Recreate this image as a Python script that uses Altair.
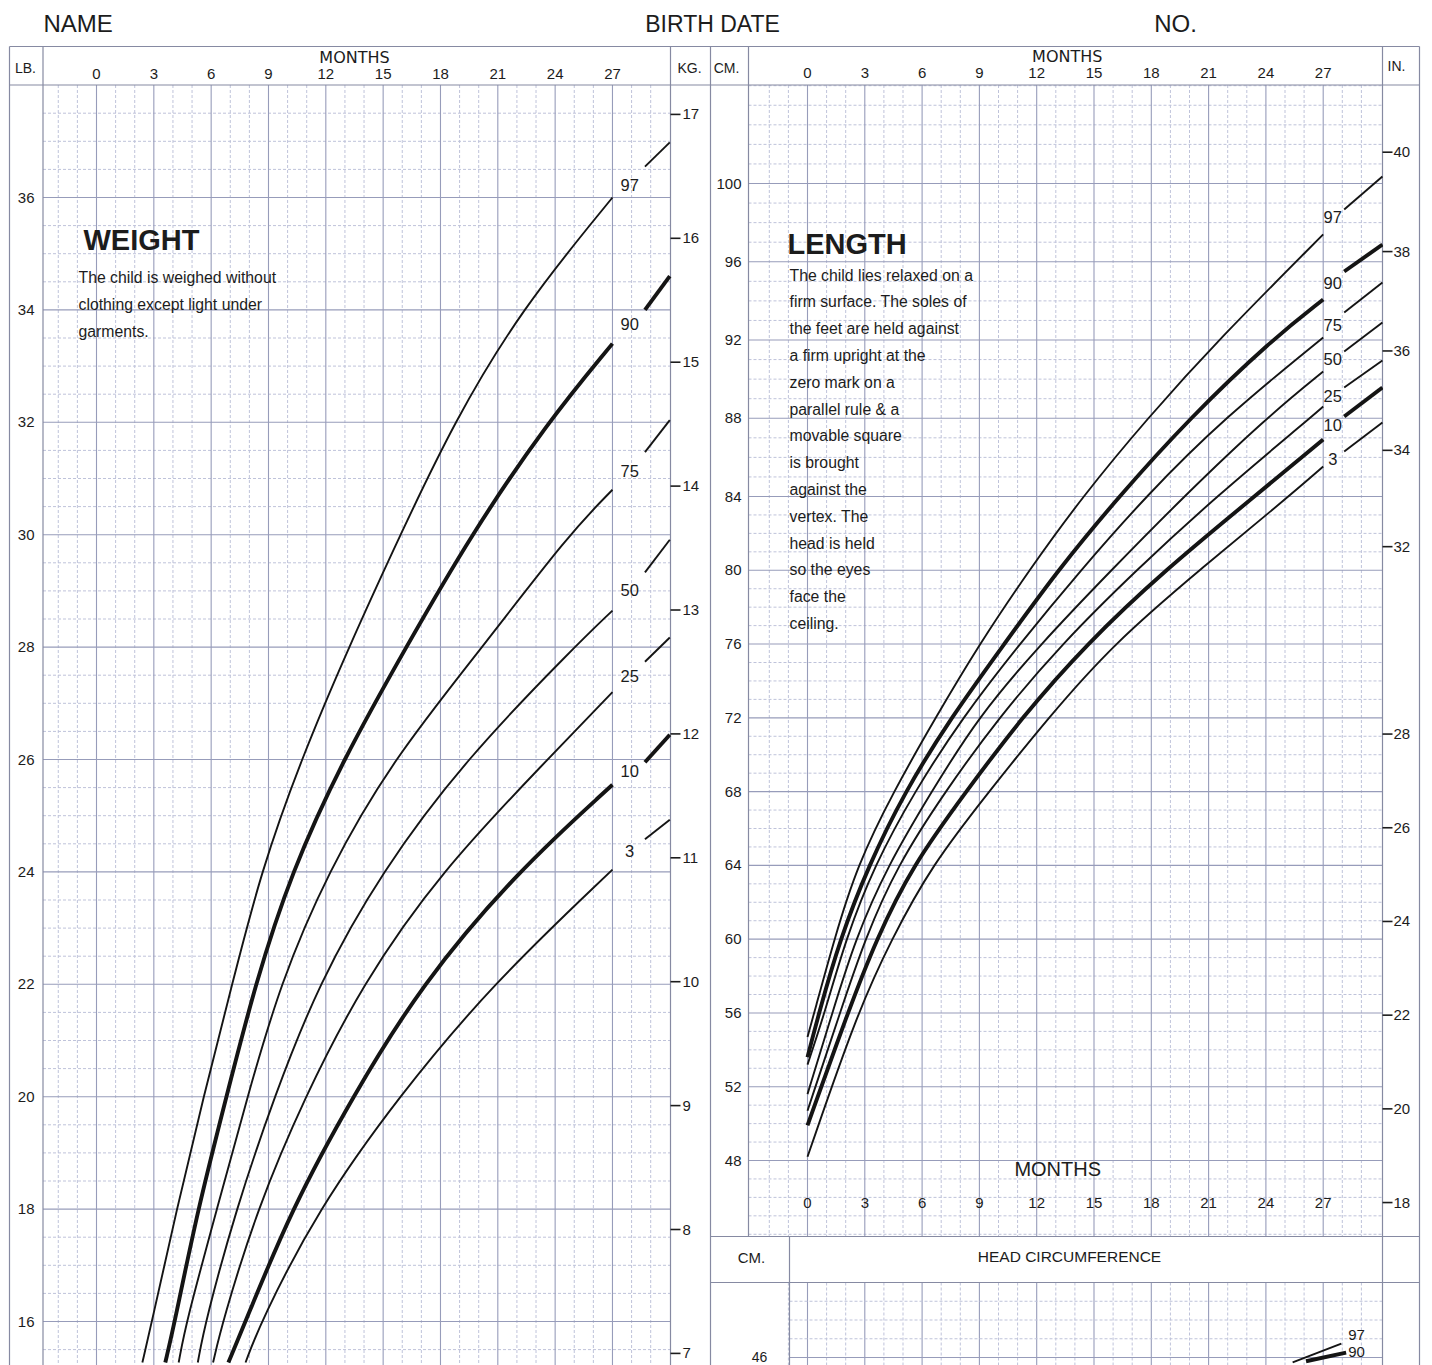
import altair as alt
import pandas as pd

# ============================ DATA ============================
PCTS = ["97", "90", "75", "50", "25", "10", "3"]
THICK = ["90", "10"]
month_ticks = [0, 3, 6, 9, 12, 15, 18, 21, 24, 27]

# ---- WEIGHT (months, lb) ----
wt97_m = [2.4, 2.9, 4.2, 5.6, 7.1, 8.6, 10.7, 13.2, 15.9, 18.7, 22.2, 27.0]
wt97_lb = [15.27, 16.0, 18.0, 20.0, 22.0, 24.0, 26.0, 28.0, 30.0, 32.0, 34.0, 36.0]
wt90_m = [3.6, 4.1, 5.3, 6.8, 8.3, 10.2, 12.9, 16.2, 19.6, 23.6, 27.0]
wt90_lb = [15.27, 16.0, 18.0, 20.0, 22.0, 24.0, 26.0, 28.0, 30.0, 32.0, 33.4]
wt75_m = [4.3, 4.7, 6.3, 7.9, 9.6, 12.1, 15.5, 20.2, 24.7, 27.0]
wt75_lb = [15.27, 16.0, 18.0, 20.0, 22.0, 24.0, 26.0, 28.0, 30.0, 30.8]
wt50_m = [5.3, 5.7, 7.3, 9.3, 11.6, 14.9, 19.3, 25.0, 27.0]
wt50_lb = [15.27, 16.0, 18.0, 20.0, 22.0, 24.0, 26.0, 28.0, 28.65]
wt25_m = [6.1, 6.6, 8.4, 10.9, 13.9, 18.0, 23.6, 27.0]
wt25_lb = [15.27, 16.0, 18.0, 20.0, 22.0, 24.0, 26.0, 27.2]
wt10_m = [6.9, 7.8, 10.2, 13.4, 17.0, 22.0, 27.0]
wt10_lb = [15.27, 16.0, 18.0, 20.0, 22.0, 24.0, 25.55]
wt3_m = [7.8, 8.6, 11.6, 15.8, 20.7, 27.0]
wt3_lb = [15.27, 16.0, 18.0, 20.0, 22.0, 24.04]
# continuation pieces right of the percentile labels
wt_ext_m = [28.7, 30.0]
wt_ext_97 = [36.55, 36.98]
wt_ext_90 = [34.0, 34.6]
wt_ext_75 = [31.47, 32.04]
wt_ext_50 = [29.33, 29.91]
wt_ext_25 = [27.74, 28.17]
wt_ext_10 = [25.95, 26.44]
wt_ext_3 = [24.58, 24.93]
wt_label_m = 27.9
wt_label_lb = [36.21, 33.74, 31.12, 28.99, 27.46, 25.77, 24.35]

# ---- LENGTH (months, cm) ----
ln97_m = [0, 0.35, 1.4, 2.6, 4.5, 6.7, 9.0, 11.6, 14.4, 17.8, 21.5, 27.0]
ln97_cm = [54.7, 56, 60, 64, 68, 72, 76, 80, 84, 88, 92, 97.4]
ln90_m = [0, 0.6, 1.7, 3.2, 5.1, 7.5, 10.3, 13.1, 16.3, 20.0, 24.3, 27.0]
ln90_cm = [53.6, 56, 60, 64, 68, 72, 76, 80, 84, 88, 92, 94.07]
ln75_m = [0, 0.9, 2.0, 3.5, 5.6, 8.1, 11.1, 14.3, 17.7, 21.8, 27.0]
ln75_cm = [53.2, 56, 60, 64, 68, 72, 76, 80, 84, 88, 92.13]
ln50_m = [0, 1.3, 2.5, 4.2, 6.5, 8.9, 12.2, 15.9, 19.7, 24.0, 27.0]
ln50_cm = [51.6, 56, 60, 64, 68, 72, 76, 80, 84, 88, 90.39]
ln25_m = [0, 1.7, 3.0, 4.7, 7.2, 10.0, 13.3, 17.2, 21.4, 26.3, 27.0]
ln25_cm = [50.7, 56, 60, 64, 68, 72, 76, 80, 84, 88, 88.6]
ln10_m = [0, 2.1, 3.6, 5.5, 8.3, 11.2, 14.6, 18.7, 23.4, 27.0]
ln10_cm = [49.9, 56, 60, 64, 68, 72, 76, 80, 84, 86.91]
ln3_m = [0, 2.6, 4.4, 6.5, 9.5, 12.6, 16.0, 20.5, 25.2, 27.0]
ln3_cm = [48.2, 56, 60, 64, 68, 72, 76, 80, 84, 85.53]
ln_ext_m = [28.1, 30.1]
ln_ext_97 = [98.67, 100.36]
ln_ext_90 = [95.5, 96.88]
ln_ext_75 = [93.4, 94.94]
ln_ext_50 = [91.41, 92.89]
ln_ext_25 = [89.57, 90.95]
ln_ext_10 = [88.09, 89.57]
ln_ext_3 = [86.3, 87.78]
ln_label_m = 27.5
ln_label_cm = [98.26, 94.84, 92.74, 91.0, 89.11, 87.58, 85.89]

# ---- HEAD CIRCUMFERENCE (only the top edge is visible) ----
hc97_m = [25.4, 27.95]
hc97_cm = [45.87, 46.37]
hc90_m = [26.1, 28.2]
hc90_cm = [45.9, 46.13]
hc_label_pct = ["97", "90"]
hc_label_m = 28.75
hc_label_cm = [46.59, 46.16]

# ---- axis tick values ----
lb_ticks = [16, 18, 20, 22, 24, 26, 28, 30, 32, 34, 36]
kg_ticks = [7, 8, 9, 10, 11, 12, 13, 14, 15, 16, 17]
cm_ticks = [48, 52, 56, 60, 64, 68, 72, 76, 80, 84, 88, 92, 96, 100]
in_ticks = [18, 20, 22, 24, 26, 28, 32, 34, 36, 38, 40]

weight_note = ["The child is weighed without", "clothing except light under", "garments."]
length_note = ["The child lies relaxed on a", "firm surface. The soles of", "the feet are held against",
               "a firm upright at the", "zero mark on a", "parallel rule & a", "movable square",
               "is brought", "against the", "vertex. The", "head is held", "so the eyes",
               "face the", "ceiling."]

# ============================ LAYOUT ============================
W, H = 1340, 1280
TOP, LEFT = 85.5, 43.5          # page position of the plot origin
def rx(px): return px - LEFT
def ry(py): return py - TOP

WX0, WXS = 97.0, 19.11
wx = alt.Scale(domain=[(LEFT - WX0) / WXS, (LEFT + W - WX0) / WXS], nice=False, zero=False)
LX0, LXS = 808.0, 19.1
lx = alt.Scale(domain=[(LEFT - LX0) / LXS, (LEFT + W - LX0) / LXS], nice=False, zero=False)

def lb_at(py): return 36 - (py - 198) / 56.2
wy_dom = [lb_at(TOP + H), lb_at(TOP)]
wy = alt.Scale(domain=wy_dom, nice=False, zero=False)
ky = alt.Scale(domain=[v / 2.20462 for v in wy_dom], nice=False, zero=False)

lo_s = (1161 - 497) / 36.0
hi_s = (497 - 184) / 16.0
ly_dom = [48 - (TOP + H - 1161) / lo_s, 48, 84, 100, 100 + (184 - TOP) / hi_s]
ly_rng = [H, ry(1161), ry(497), ry(184), 0]
ly = alt.Scale(domain=ly_dom, range=ly_rng, nice=False, zero=False)
iy = alt.Scale(domain=[v / 2.54 for v in ly_dom], range=ly_rng, nice=False, zero=False)

hy = alt.Scale(domain=[46 - (TOP + H - 1358) / 37.5, 46 + (1358 - TOP) / 37.5], nice=False, zero=False)

TXT = "#1c1c1c"
INK = "#141414"
G_MIN = "#bfc3da"
G_MAJ = "#979cba"
FRAME = "#868aa2"
FONT = "Liberation Sans"
WIDE = "DejaVu Sans"
ONE = pd.DataFrame({"a": [0]})

def txt(text, x, y, size, align="center", baseline="middle", weight="normal", font=FONT, lh=None):
    kw = dict(text=text, fontSize=size, align=align, baseline=baseline, fontWeight=weight, font=font, color=TXT)
    if lh is not None:
        kw["lineHeight"] = lh
    return alt.Chart(ONE).mark_text(**kw).encode(x=alt.value(x), y=alt.value(y))

def frame(x0, y0, x1, y1, color=FRAME, sw=1.2, opacity=1.0):
    return alt.Chart(ONE).mark_rule(color=color, strokeWidth=sw, opacity=opacity).encode(
        x=alt.value(x0), y=alt.value(y0), x2=alt.value(x1), y2=alt.value(y1))

def vlines(vals, xs, y0, y1, color, sw, dash=None):
    kw = dict(color=color, strokeWidth=sw)
    if dash:
        kw["strokeDash"] = dash
    return alt.Chart(pd.DataFrame({"m": vals})).mark_rule(**kw).encode(
        x=alt.X("m:Q", scale=xs, axis=None), y=alt.value(y0), y2=alt.value(y1))

def hlines(vals, ys, x0, x1, color, sw, dash=None):
    kw = dict(color=color, strokeWidth=sw)
    if dash:
        kw["strokeDash"] = dash
    return alt.Chart(pd.DataFrame({"v": vals})).mark_rule(**kw).encode(
        y=alt.Y("v:Q", scale=ys, axis=None), x=alt.value(x0), x2=alt.value(x1))

def curve_table(series, ext_m, ext):
    rows = []
    for p, (ms, vs) in series.items():
        for m, v in zip(ms, vs):
            rows.append({"pct": p, "key": p + "a", "m": m, "v": v})
        if ext is not None:
            for m, v in zip(ext_m, ext[p]):
                rows.append({"pct": p, "key": p + "b", "m": m, "v": v})
    return pd.DataFrame(rows)

def curves(df, xs, ys, thick):
    sub = df[df["pct"].isin(THICK) == thick]
    return alt.Chart(sub).mark_line(color=INK, strokeWidth=3.9 if thick else 1.9,
                                    interpolate="basis", clip=True).encode(
        x=alt.X("m:Q", scale=xs, axis=None), y=alt.Y("v:Q", scale=ys, axis=None),
        detail="key:N", order="m:Q")

def pct_text(labels, m, vals, xs, ys, size=16.5):
    df = pd.DataFrame({"t": labels, "m": [m] * len(labels), "v": vals})
    return alt.Chart(df).mark_text(fontSize=size, font=FONT, color=TXT).encode(
        x=alt.X("m:Q", scale=xs, axis=None), y=alt.Y("v:Q", scale=ys, axis=None), text="t:N")

def ytick_text(vals, ys, x, align, size=15):
    df = pd.DataFrame({"v": vals, "t": [str(v) for v in vals]})
    return alt.Chart(df).mark_text(fontSize=size, font=FONT, color=TXT, align=align).encode(
        y=alt.Y("v:Q", scale=ys, axis=None), x=alt.value(x), text="t:N")

def xtick_text(vals, xs, y, size=15):
    df = pd.DataFrame({"m": vals, "t": [str(v) for v in vals]})
    return alt.Chart(df).mark_text(fontSize=size, font=FONT, color=TXT).encode(
        x=alt.X("m:Q", scale=xs, axis=None), y=alt.value(y), text="t:N")

def frange(a, b, step):
    out, v = [], a
    while v <= b + 1e-9:
        out.append(round(v, 3))
        v += step
    return out

layers = []
layers.append(frame(-35, -77, -34, -77, opacity=0.0))   # invisible anchor (top-left)

# ---------------- grids ----------------
WR = rx(671)
LL, LR = rx(749), rx(1383)
LB_ = ry(1237)
HT = ry(1283)
HL = rx(790)

wk_minor = [m for m in range(-2, 30) if m not in month_ticks]
layers.append(vlines(wk_minor, wx, 0, H, G_MIN, 1, [3, 2]))
layers.append(hlines([v for v in frange(15.5, 37.5, 0.5) if v % 2 != 0], wy, 0, WR, G_MIN, 1, [3, 2]))
layers.append(vlines(month_ticks, wx, 0, H, G_MAJ, 1.1))
layers.append(hlines(lb_ticks, wy, 0, WR, G_MAJ, 1.1))

ln_minor = [m for m in range(-2, 30) if m not in month_ticks]
layers.append(vlines(ln_minor, lx, 0, LB_, G_MIN, 1, [3, 2]))
layers.append(hlines([v for v in range(44, 106) if v not in cm_ticks], ly, LL, LR, G_MIN, 1, [3, 2]))
layers.append(vlines(month_ticks, lx, 0, LB_, G_MAJ, 1.1))
layers.append(hlines(cm_ticks, ly, LL, LR, G_MAJ, 1.1))

layers.append(vlines([m for m in range(-1, 30) if m not in month_ticks], lx, HT, H, G_MIN, 1, [3, 2]))
layers.append(vlines(month_ticks, lx, HT, H, G_MAJ, 1.1))
layers.append(hlines([46.5, 47.0, 47.5], hy, HL, LR, G_MIN, 1, [3, 2]))
layers.append(hlines([46.0], hy, HL, LR, G_MAJ, 1.1))

# ---------------- frame lines ----------------
XL, XR = rx(10), rx(1420)
HB = ry(47)
layers += [
    frame(XL, HB, XR, HB), frame(XL, 0, XR, 0),
    frame(XL, HB, XL, H), frame(0, HB, 0, H), frame(WR, HB, WR, H),
    frame(rx(711), HB, rx(711), H), frame(LL, HB, LL, LB_), frame(LR, HB, LR, H),
    frame(XR, HB, XR, H),
    frame(rx(711), LB_, XR, LB_), frame(rx(711), HT, XR, HT), frame(HL, LB_, HL, H),
]

# ---------------- curves ----------------
wt_df = curve_table(
    {"97": (wt97_m, wt97_lb), "90": (wt90_m, wt90_lb), "75": (wt75_m, wt75_lb), "50": (wt50_m, wt50_lb),
     "25": (wt25_m, wt25_lb), "10": (wt10_m, wt10_lb), "3": (wt3_m, wt3_lb)},
    wt_ext_m,
    {"97": wt_ext_97, "90": wt_ext_90, "75": wt_ext_75, "50": wt_ext_50, "25": wt_ext_25, "10": wt_ext_10, "3": wt_ext_3})
ln_df = curve_table(
    {"97": (ln97_m, ln97_cm), "90": (ln90_m, ln90_cm), "75": (ln75_m, ln75_cm), "50": (ln50_m, ln50_cm),
     "25": (ln25_m, ln25_cm), "10": (ln10_m, ln10_cm), "3": (ln3_m, ln3_cm)},
    ln_ext_m,
    {"97": ln_ext_97, "90": ln_ext_90, "75": ln_ext_75, "50": ln_ext_50, "25": ln_ext_25, "10": ln_ext_10, "3": ln_ext_3})
hc_df = curve_table({"97": (hc97_m, hc97_cm), "90": (hc90_m, hc90_cm)}, None, None)

for th in (False, True):
    layers.append(curves(wt_df, wx, wy, th))
    layers.append(curves(ln_df, lx, ly, th))
    layers.append(curves(hc_df, lx, hy, th))

layers.append(pct_text(PCTS, wt_label_m, wt_label_lb, wx, wy))
layers.append(pct_text(PCTS, ln_label_m, ln_label_cm, lx, ly))
layers.append(pct_text(hc_label_pct, hc_label_m, hc_label_cm, lx, hy, size=15))

# ---------------- axes (drawn as text) ----------------
layers.append(ytick_text(lb_ticks, wy, rx(35), "right"))
layers.append(ytick_text(kg_ticks, ky, rx(683), "left"))
layers.append(alt.Chart(pd.DataFrame({"v": kg_ticks})).mark_rule(color=TXT, strokeWidth=1.6).encode(
    y=alt.Y("v:Q", scale=ky, axis=None), x=alt.value(WR), x2=alt.value(rx(681))))
layers.append(ytick_text(cm_ticks, ly, rx(742), "right"))
layers.append(ytick_text(in_ticks, iy, rx(1394), "left"))
layers.append(alt.Chart(pd.DataFrame({"v": in_ticks})).mark_rule(color=TXT, strokeWidth=1.6).encode(
    y=alt.Y("v:Q", scale=iy, axis=None), x=alt.value(LR), x2=alt.value(rx(1393))))

layers.append(xtick_text(month_ticks, wx, ry(74)))
layers.append(xtick_text(month_ticks, lx, ry(73)))
layers.append(xtick_text(month_ticks, lx, ry(1203)))

layers.append(alt.Chart(pd.DataFrame({"m": [13.5], "t": ["MONTHS"]})).mark_text(
    fontSize=16, font=WIDE, color=TXT).encode(x=alt.X("m:Q", scale=wx, axis=None), y=alt.value(ry(58)), text="t:N"))
layers.append(alt.Chart(pd.DataFrame({"m": [13.6], "t": ["MONTHS"]})).mark_text(
    fontSize=16, font=WIDE, color=TXT).encode(x=alt.X("m:Q", scale=lx, axis=None), y=alt.value(ry(57)), text="t:N"))
layers.append(alt.Chart(pd.DataFrame({"m": [13.1], "t": ["MONTHS"]})).mark_text(
    fontSize=20, font=FONT, color=TXT).encode(x=alt.X("m:Q", scale=lx, axis=None), y=alt.value(ry(1170)), text="t:N"))

# ---------------- header & notes ----------------
layers += [
    txt("NAME", rx(44), ry(25), 24, align="left"),
    txt("BIRTH DATE", rx(713), ry(25), 23),
    txt("NO.", rx(1176), ry(25), 24),
    txt("LB.", rx(26), ry(69), 14),
    txt("KG.", rx(690), ry(69), 14),
    txt("CM.", rx(727), ry(69), 14),
    txt("IN.", rx(1397), ry(67), 14),
    txt("WEIGHT", rx(84), ry(241), 29, align="left", weight="bold"),
    txt(weight_note, rx(79), ry(271), 15.8, align="left", baseline="top", lh=27),
    txt("LENGTH", rx(788), ry(245), 29, align="left", weight="bold"),
    txt(length_note, rx(790), ry(269), 15.8, align="left", baseline="top", lh=26.8),
    txt("CM.", rx(752), ry(1258), 15),
    txt("HEAD CIRCUMFERENCE", rx(1070), ry(1257), 15.5),
    txt("46", rx(760), ry(1358), 14),
]

chart = alt.layer(*layers).resolve_scale(x="independent", y="independent").properties(
    width=W, height=H, padding=0, background="white").configure_view(stroke=None)

chart.save("out.html", embed_options={"renderer": "svg", "actions": False})
